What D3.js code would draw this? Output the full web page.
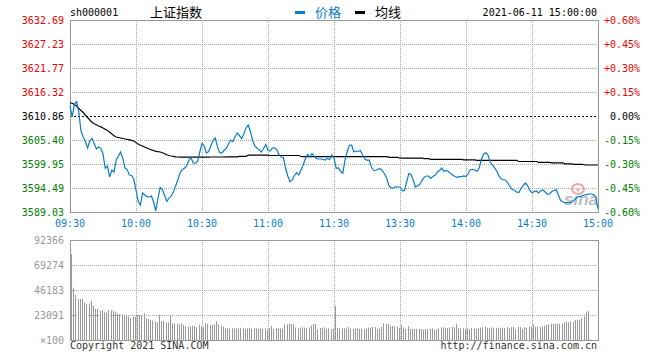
<!DOCTYPE html>
<html lang="zh">
<head>
<meta charset="UTF-8">
<title>上证指数 分时</title>
<script src="https://d3js.org/d3.v7.min.js"></script>
<style>
  body { margin: 0; background: #fff; }
  text { font-family: "DejaVu Sans Mono", "Liberation Mono", monospace; font-size: 10px; }
  .cn { font-family: "Noto Sans CJK SC", sans-serif; font-size: 13px; }
</style>
</head>
<body>
<div id="chart"></div>
<script>
// minute-by-minute data, 09:30-11:30 and 13:01-15:00 (241 points)
const timeLabels = ["09:30", "10:00", "10:30", "11:00", "11:30", "13:30", "14:00", "14:30", "15:00"];
const priceTicks = ["3632.69", "3627.23", "3621.77", "3616.32", "3610.86", "3605.40", "3599.95", "3594.49", "3589.03"];
const pctTicks = ["+0.60%", "+0.45%", "+0.30%", "+0.15%", "0.00%", "-0.15%", "-0.30%", "-0.45%", "-0.60%"];
const volTicks = ["92366", "69274", "46183", "23091", "×100"];
const preClose = 3610.86;

const price = [
  3613.25, 3610.63, 3613.57, 3614.14, 3611.77, 3607.45, 3606.08, 3605.06, 3603.58, 3605.17,
  3605.79, 3604.61, 3603.36, 3603.81, 3603.51, 3602.22, 3598.97, 3599.49, 3596.99, 3598.58,
  3598.13, 3600.85, 3601.76, 3602.67, 3601.20, 3599.03, 3598.69, 3597.44, 3597.33, 3596.53,
  3594.03, 3591.42, 3590.62, 3593.35, 3592.90, 3592.51, 3592.44, 3592.67, 3591.30, 3589.26,
  3592.21, 3594.61, 3594.15, 3592.78, 3591.42, 3592.21, 3592.67, 3593.58, 3594.94, 3596.31,
  3597.83, 3598.63, 3598.97, 3599.49, 3600.74, 3601.42, 3600.17, 3600.13, 3600.51, 3602.67,
  3604.61, 3604.15, 3602.45, 3602.79, 3604.04, 3605.29, 3605.90, 3603.92, 3602.56, 3602.45,
  3603.02, 3603.47, 3604.49, 3605.40, 3605.06, 3606.08, 3606.99, 3606.43, 3605.74, 3606.77,
  3608.13, 3608.81, 3607.34, 3605.29, 3604.04, 3603.52, 3603.22, 3602.67, 3603.47, 3604.38,
  3603.02, 3602.90, 3603.58, 3603.63, 3603.24, 3602.10, 3601.54, 3601.42, 3598.97, 3597.22,
  3595.92, 3596.31, 3597.33, 3597.97, 3597.44, 3598.58, 3599.72, 3601.20, 3602.10, 3601.54,
  3602.33, 3601.76, 3601.15, 3601.08, 3601.08, 3600.97, 3600.85, 3601.24, 3600.92, 3601.99, 3601.31,
  3598.97, 3599.08, 3598.29, 3597.83, 3600.85, 3602.79, 3604.15, 3604.27, 3602.67, 3602.90,
  3602.79, 3603.02, 3601.99, 3601.08, 3600.78, 3600.85, 3599.26, 3598.47, 3598.52, 3598.81,
  3598.88, 3598.42, 3597.67, 3596.65, 3595.03, 3594.49, 3594.49, 3594.76, 3594.71, 3594.71,
  3593.87, 3593.87, 3595.85, 3597.78, 3597.56, 3596.31, 3594.71, 3595.01, 3595.28, 3596.24,
  3596.88, 3597.22, 3597.22, 3596.65, 3597.15, 3597.37, 3598.13, 3598.47, 3599.04, 3598.24,
  3598.47, 3598.24, 3597.78, 3597.44, 3597.10, 3596.92, 3597.06, 3597.06, 3597.22, 3597.10,
  3597.78, 3598.69, 3598.69, 3598.58, 3598.24, 3599.04, 3600.97, 3602.22, 3602.51, 3601.99,
  3600.40, 3599.72, 3599.08, 3598.35, 3597.22, 3596.53, 3596.31, 3596.31, 3595.62, 3594.78,
  3594.15, 3593.97, 3593.58, 3593.46, 3594.37, 3595.06, 3595.62, 3595.06, 3593.92, 3593.42,
  3593.65, 3593.81, 3593.35, 3593.87, 3594.03, 3593.58, 3593.05, 3593.12, 3593.69, 3593.92,
  3594.15, 3592.90, 3591.65, 3591.37, 3591.14, 3591.14, 3591.14, 3591.30, 3591.65, 3592.15,
  3592.49, 3592.60, 3592.74, 3592.90, 3593.05, 3593.12, 3593.12, 3592.94, 3592.56, 3589.75
];

const avgPrice = [
  3613.88, 3613.75, 3613.48, 3613.13, 3612.61, 3612.11, 3611.66, 3611.02, 3610.52, 3609.95,
  3609.43, 3609.09, 3608.86, 3608.59, 3608.40, 3608.13, 3607.84, 3607.56, 3607.22, 3606.77,
  3606.36, 3606.08, 3605.97, 3605.86, 3605.74, 3605.63, 3605.56, 3605.45, 3605.33, 3605.17,
  3604.83, 3604.49, 3604.22, 3604.04, 3603.74, 3603.58, 3603.36, 3603.17, 3603.02, 3602.83,
  3602.74, 3602.67, 3602.49, 3602.26, 3602.04, 3601.88, 3601.76, 3601.67, 3601.58, 3601.54,
  3601.49, 3601.49, 3601.49, 3601.49, 3601.49, 3601.49, 3601.49, 3601.49, 3601.49, 3601.49,
  3601.49, 3601.49, 3601.49, 3601.49, 3601.54, 3601.54, 3601.54, 3601.54, 3601.54, 3601.54,
  3601.54, 3601.58, 3601.58, 3601.58, 3601.58, 3601.58, 3601.58, 3601.69, 3601.69, 3601.69,
  3601.69, 3601.95, 3601.95, 3601.95, 3601.95, 3601.95, 3601.95, 3601.95, 3601.95, 3601.95,
  3601.95, 3601.88, 3601.88, 3601.88, 3601.88, 3601.88, 3601.88, 3601.88, 3601.88, 3601.88,
  3601.88, 3601.88, 3601.88, 3601.88, 3601.88, 3601.65, 3601.61, 3601.61, 3601.61, 3601.61,
  3601.61, 3601.61, 3601.61, 3601.61, 3601.61, 3601.61, 3601.61, 3601.61, 3601.61, 3601.61, 3601.61,
  3601.61, 3601.61, 3601.61, 3601.61, 3601.61, 3601.61, 3601.61, 3601.61, 3601.61, 3601.61,
  3601.61, 3601.61, 3601.61, 3601.61, 3601.61, 3601.61, 3601.61, 3601.61, 3601.61, 3601.61,
  3601.61, 3601.61, 3601.61, 3601.61, 3601.47, 3601.47, 3601.47, 3601.47, 3601.47, 3601.26,
  3601.26, 3601.26, 3601.26, 3601.26, 3601.26, 3601.26, 3601.26, 3601.26, 3601.26, 3601.26,
  3601.17, 3601.17, 3601.17, 3601.01, 3601.01, 3601.01, 3601.01, 3601.01, 3601.01, 3601.01,
  3601.01, 3601.01, 3601.01, 3601.01, 3601.01, 3601.01, 3601.01, 3601.01, 3600.90, 3600.90,
  3600.90, 3600.90, 3600.90, 3600.90, 3600.79, 3600.79, 3600.79, 3600.79, 3600.79, 3600.79,
  3600.79, 3600.79, 3600.79, 3600.79, 3600.79, 3600.79, 3600.79, 3600.79, 3600.79, 3600.79,
  3600.79, 3600.79, 3600.79, 3600.51, 3600.51, 3600.51, 3600.51, 3600.51, 3600.51, 3600.51,
  3600.51, 3600.51, 3600.33, 3600.33, 3600.33, 3600.33, 3600.33, 3600.33, 3600.20, 3600.20,
  3600.20, 3600.20, 3600.20, 3600.20, 3599.99, 3599.99, 3599.99, 3599.99, 3599.88, 3599.88,
  3599.88, 3599.88, 3599.88, 3599.72, 3599.72, 3599.72, 3599.72, 3599.72, 3599.72, 3599.72
];

// volume in units of 100
const volume = [
  79440, 48340, 41570, 37870, 37870, 37870, 34790, 32950, 33870, 36020,
  31400, 28630, 28630, 26790, 27710, 26170, 25560, 27710, 27400, 26790,
  25560, 24630, 23710, 23710, 22480, 22480, 21550, 20010, 21550, 21550,
  23090, 23090, 22480, 24630, 20010, 19400, 18470, 17860, 16930, 16320,
  23090, 17550, 17550, 16010, 16320, 22480, 15400, 15090, 15090, 14470,
  15400, 13860, 12930, 12320, 12320, 12930, 12930, 11700, 13860, 12620,
  12320, 15400, 14780, 13860, 13860, 14470, 17550, 14470, 13240, 12320,
  10780, 11390, 10780, 10780, 10780, 11090, 10780, 11390, 10780, 10470,
  10780, 11390, 10160, 10780, 10780, 10470, 11390, 10160, 10780, 9550,
  11090, 12930, 10160, 11090, 10780, 10780, 10470, 14470, 14470, 15090,
  14470, 14780, 11700, 10780, 11390, 11700, 11390, 11090, 11700, 13240,
  14780, 14780, 9860, 11090, 11090, 11700, 10470, 10780, 10160, 10470, 31400,
  11390, 10780, 10780, 10780, 10780, 12010, 10780, 10160, 10780, 10780,
  10160, 10780, 9850, 10780, 11390, 11390, 12010, 12010, 9850, 10780,
  12320, 15400, 14780, 14780, 12930, 12930, 12930, 12010, 10780, 13860,
  11390, 10160, 12930, 10160, 10470, 10160, 10160, 10160, 9850, 9240,
  10160, 9850, 10160, 10780, 9240, 9850, 10780, 11700, 11700, 11390,
  10780, 11700, 12320, 11700, 15090, 11080, 10780, 10780, 10160, 10780,
  9850, 11080, 10780, 10470, 10780, 11390, 11700, 12320, 11390, 10780,
  11700, 11080, 10780, 11390, 11080, 11390, 11080, 11700, 10780, 12010,
  12010, 9850, 12010, 12010, 10470, 11700, 11390, 12010, 12320, 14470,
  12320, 12320, 12320, 12320, 12930, 13860, 14470, 15090, 15090, 15090,
  15090, 15090, 15090, 16320, 16930, 16320, 16930, 16930, 18470, 18470,
  18470, 20010, 21550, 25560, 26790, 620, 0, 0, 0, 0
];

const width = 660, height = 360;
const blue = "#0a7ccc", red = "#f00000", green = "#008000", frame = "#999", grid = "#aaa";

const svg = d3.select("#chart").append("svg")
    .attr("width", width)
    .attr("height", height);

const x = d3.scaleLinear().domain([0, 240]).range([70, 598]);
const y = d3.scaleLinear().domain([+priceTicks[8], +priceTicks[0]]).range([212, 20]);
const yv = d3.scaleLinear().domain([0, 92366]).range([340, 240]);
const crisp = v => Math.round(v) + 0.5;

// ---- header
svg.append("text").attr("x", 70).attr("y", 16).text("sh000001").attr("fill", "#000");
svg.append("text").attr("class", "cn").attr("x", 150).attr("y", 17).text("上证指数");
svg.append("rect").attr("x", 295).attr("y", 11).attr("width", 10).attr("height", 3).attr("fill", blue);
svg.append("text").attr("class", "cn").attr("x", 315).attr("y", 17).attr("fill", blue).text("价格");
svg.append("rect").attr("x", 355).attr("y", 11).attr("width", 10).attr("height", 3).attr("fill", "#000");
svg.append("text").attr("class", "cn").attr("x", 375).attr("y", 17).text("均线");
svg.append("text").attr("x", 597).attr("y", 16).attr("text-anchor", "end").text("2021-06-11 15:00:00");

// ---- grid (dotted)
const gMain = svg.append("g");
priceTicks.forEach((t, i) => {
    if (i === 0 || i === 8 || i === 4) return;
    gMain.append("line")
        .attr("x1", 70).attr("x2", 598)
        .attr("y1", crisp(y(+t))).attr("y2", crisp(y(+t)))
        .attr("stroke", grid).attr("stroke-dasharray", "1,1");
});
for (let m = 30; m < 240; m += 30) {
    [[20, 212], [240, 340]].forEach(([a, b]) => {
        gMain.append("line")
            .attr("x1", crisp(x(m))).attr("x2", crisp(x(m)))
            .attr("y1", a).attr("y2", b)
            .attr("stroke", grid).attr("stroke-dasharray", "1,1");
    });
}
volTicks.slice(1, 4).forEach(t => {
    gMain.append("line")
        .attr("x1", 70).attr("x2", 598)
        .attr("y1", crisp(yv(+t))).attr("y2", crisp(yv(+t)))
        .attr("stroke", grid).attr("stroke-dasharray", "1,1");
});

// sina watermark
svg.append("ellipse").attr("cx", 578).attr("cy", 189).attr("rx", 6).attr("ry", 5)
    .attr("fill", "none").attr("stroke", "#f2a0a0").attr("stroke-width", 2);
svg.append("circle").attr("cx", 578).attr("cy", 190).attr("r", 1.5).attr("fill", "#f2a0a0");
svg.append("text").attr("x", 564).attr("y", 205)
    .style("font-family", "Liberation Sans, sans-serif").style("font-size", "17px")
    .style("font-weight", "bold").style("font-style", "italic")
    .attr("fill", "#bdbdbd").text("sina");

// preclose line
gMain.append("line")
    .attr("x1", 70).attr("x2", 598)
    .attr("y1", crisp(y(preClose))).attr("y2", crisp(y(preClose)))
    .attr("stroke", "#000").attr("stroke-dasharray", "2,2");

// frames
svg.append("rect").attr("x", 70.5).attr("y", 20.5).attr("width", 528).attr("height", 192)
    .attr("fill", "none").attr("stroke", frame);
svg.append("rect").attr("x", 70.5).attr("y", 240.5).attr("width", 528).attr("height", 100)
    .attr("fill", "none").attr("stroke", frame);

// ---- lines
const line = d3.line().x((d, i) => x(i)).y(d => y(d));
svg.append("path").datum(avgPrice).attr("d", line)
    .attr("fill", "none").attr("stroke", "#000").attr("stroke-width", 1.2);
svg.append("path").datum(price).attr("d", line)
    .attr("fill", "none").attr("stroke", blue).attr("stroke-width", 1.2);

// ---- axis labels
priceTicks.forEach((t, i) => {
    const c = i < 4 ? red : (i === 4 ? "#000" : green);
    svg.append("text").attr("x", 64).attr("y", y(+t) + 4)
        .attr("text-anchor", "end").attr("fill", c).text(t);
    svg.append("text").attr("x", 640).attr("y", y(+t) + 4)
        .attr("text-anchor", "end").attr("fill", c).text(pctTicks[i]);
});
timeLabels.forEach((t, i) => {
    svg.append("text").attr("x", x(i * 30)).attr("y", 227)
        .attr("text-anchor", "middle").attr("fill", blue).text(t);
});

// ---- volume
svg.append("g").selectAll("line").data(volume).join("line")
    .attr("x1", (d, i) => crisp(x(i)) + 1).attr("x2", (d, i) => crisp(x(i)) + 1)
    .attr("y1", 340).attr("y2", d => yv(d))
    .attr("stroke", "#999");

volTicks.forEach((t, i) => {
    svg.append("text").attr("x", 64).attr("y", 240 + i * 25 + 4)
        .attr("text-anchor", "end").attr("fill", "#999").text(t);
});

svg.append("text").attr("x", 70).attr("y", 349).attr("fill", "#333").text("Copyright 2021 SINA.COM");
svg.append("text").attr("x", 597).attr("y", 349).attr("text-anchor", "end").attr("fill", "#333")
    .text("http://finance.sina.com.cn");
</script>
</body>
</html>
